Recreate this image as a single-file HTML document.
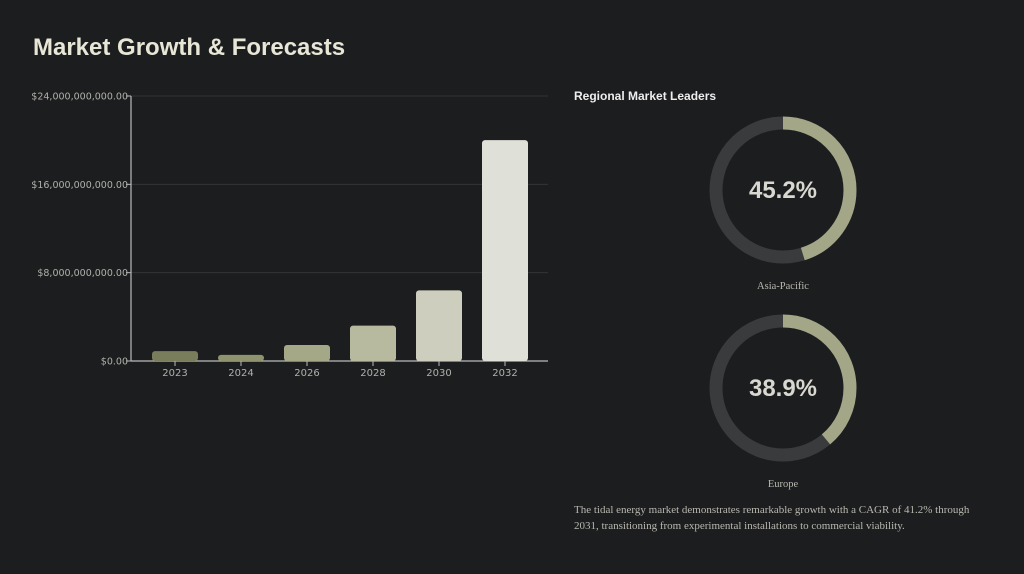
<!DOCTYPE html>
<html><head><meta charset="utf-8"><style>
body{margin:0;width:1024px;height:574px;background:#1c1d1f;overflow:hidden;font-family:"Liberation Sans",sans-serif}
h1{position:absolute;left:33px;top:34px;margin:0;font-size:24px;font-weight:bold;color:#e8e6d6}
h2{position:absolute;left:574px;top:89px;margin:0;font-size:12px;font-weight:bold;color:#eeeeee}
.note{position:absolute;left:574px;top:502px;width:410px;font-family:"Liberation Serif",serif;font-size:11px;line-height:16px;color:#b8b8b0}
</style></head><body>
<h1>Market Growth &amp; Forecasts</h1>
<svg id="chart" width="560" height="400" style="position:absolute;left:0;top:0"></svg>
<h2>Regional Market Leaders</h2>
<svg id="donuts" width="1024" height="574" style="position:absolute;left:0;top:0"></svg>
<div class="note">The tidal energy market demonstrates remarkable growth with a CAGR of 41.2% through 2031, transitioning from experimental installations to commercial viability.</div>
<script>
const categories=["2023","2024","2026","2028","2030","2032"];
const values=[0.9e9,0.55e9,1.45e9,3.2e9,6.4e9,20.0e9];
const barColors=["#7a7d5c","#8f936e","#a5a886","#b8baa0","#cdcebd","#dfe0d8"];
const ticks=[0,8e9,16e9,24e9];
const tickLabels=["$0.00","$8,000,000,000.00","$16,000,000,000.00","$24,000,000,000.00"];
const regions=["Asia-Pacific","Europe"];
const shares=[45.2,38.9];
const NS="http://www.w3.org/2000/svg";
function mk(p,t,a){const e=document.createElementNS(NS,t);for(const k in a)e.setAttribute(k,a[k]);p.appendChild(e);return e;}
const x0=131,x1=548,y0=361,yTop=96,maxV=24e9;
const y=v=>y0-(v/maxV)*(y0-yTop);
const bw=46;
const svg=document.getElementById('chart');
ticks.forEach((t,i)=>{
  if(t>0){const g=mk(svg,'line',{x1:x0,x2:x1,y1:y(t),y2:y(t),stroke:'#333436','stroke-width':1});
  
  }
  mk(svg,'line',{x1:x0-5,x2:x0,y1:y(t),y2:y(t),stroke:'#bbb'});
  const tx=mk(svg,'text',{x:x0-3,y:y(t)+3.5,'text-anchor':'end','font-size':'9.5','fill':'#b0b0aa','font-family':'DejaVu Sans, sans-serif'});
  tx.textContent=tickLabels[i];
  
  
});
mk(svg,'line',{x1:x0,x2:x0,y1:yTop,y2:y0,stroke:'#bbb','stroke-width':1.2});
mk(svg,'line',{x1:x0,x2:x1,y1:y0,y2:y0,stroke:'#bbb','stroke-width':1.2});
categories.forEach((c,i)=>{
  const cx=175+i*66;
  const r=mk(svg,'rect',{x:cx-bw/2,y:y(values[i]),width:bw,height:y0-y(values[i]),rx:3,fill:barColors[i]});
  
  
  mk(svg,'line',{x1:cx,x2:cx,y1:y0,y2:y0+5,stroke:'#bbb'});
  const t=mk(svg,'text',{x:cx,y:y0+15,'text-anchor':'middle','font-size':'10','fill':'#b0b0aa','font-family':'DejaVu Sans, sans-serif'});
  t.textContent=c;
  
  
});
const d=document.getElementById('donuts');
const R=67,C=2*Math.PI*R;
regions.forEach((reg,i)=>{
  const cx=783,cy=190+i*198;
  const tr=mk(d,'circle',{cx,cy,r:R,fill:'none',stroke:'#3a3b3d','stroke-width':13});
  
  
  const a=mk(d,'circle',{cx,cy,r:R,fill:'none',stroke:'#a3a687','stroke-width':13,'stroke-dasharray':(C*shares[i]/100)+' '+C,transform:`rotate(-90 ${cx} ${cy})`});
  
  
  const v=mk(d,'text',{x:cx,y:cy+8,'text-anchor':'middle','font-size':'24','font-weight':'bold','fill':'#d8d8d0','font-family':'Liberation Sans, sans-serif'});
  v.textContent=shares[i].toFixed(1)+'%';
  
  
  const l=mk(d,'text',{x:cx,y:cy+99,'text-anchor':'middle','font-size':'10.5','fill':'#b8b8b0','font-family':'Liberation Serif, serif'});
  l.textContent=reg;
  
  
});
</script>
</body></html>
